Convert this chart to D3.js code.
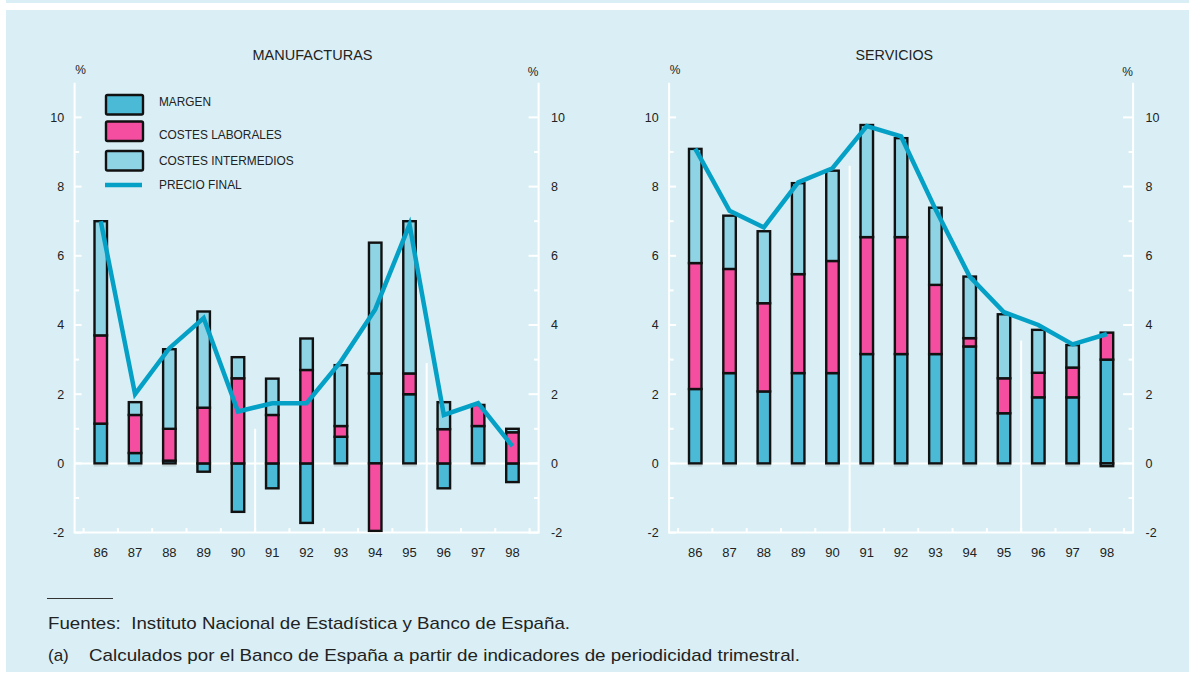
<!DOCTYPE html>
<html>
<head>
<meta charset="utf-8">
<script src="https://cdn.jsdelivr.net/npm/d3@7"></script>
<style>
  body { margin: 0; background: #fff; }
  svg { display: block; }
  text { font-family: 'Liberation Sans', Arial, sans-serif; fill: #222; }
</style>
</head>
<body>
<svg id="chart" width="1189" height="673"></svg>
<script>
// years on the x axis
const years = ['86', '87', '88', '89', '90', '91', '92', '93', '94', '95', '96', '97', '98']
const seriesNames = ['MARGEN', 'COSTES LABORALES', 'COSTES INTERMEDIOS', 'PRECIO FINAL']
const yTicks = [-2, 0, 2, 4, 6, 8, 10]

// MANUFACTURAS (contributions, %)
const manMargen      = [1.15, 0.30, 0.08, -0.24, -1.40, -0.72, -1.72, 0.77, 2.60, 2.00, -0.72, 1.08, -0.54]
const manLaborales   = [2.55, 1.10, 0.92, 1.61, 2.46, 1.40, 2.70, 0.31, -1.95, 0.60, 0.99, 0.61, 0.90]
const manIntermedios = [3.30, 0.37, 2.30, 2.78, 0.61, 1.05, 0.91, 1.76, 3.78, 4.40, 0.78, 0.00, 0.10]
const manPrecio      = [7.00, 2.00, 3.33, 4.20, 1.50, 1.74, 1.74, 2.95, 4.45, 6.90, 1.40, 1.74, 0.50]
const manDividers    = [1.0, 2.9]

// SERVICIOS
const serMargen      = [2.15, 2.61, 2.08, 2.61, 2.61, 3.16, 3.16, 3.16, 3.38, 1.45, 1.91, 1.91, 3.00]
const serLaborales   = [3.64, 3.01, 2.55, 2.86, 3.24, 3.38, 3.38, 2.00, 0.24, 1.01, 0.71, 0.86, 0.78]
const serIntermedios = [3.30, 1.54, 2.08, 2.63, 2.61, 3.24, 2.86, 2.23, 1.78, 1.85, 1.24, 0.65, -0.08]
const serPrecio      = [9.10, 7.30, 6.82, 8.12, 8.53, 9.75, 9.45, 7.35, 5.40, 4.37, 4.00, 3.44, 3.74]
const serDividers    = [8.6, 3.55]

const bg = '#d9eff5'
const colors = { margen: '#4bbad6', laborales: '#f54ea0', intermedios: '#8fd4e4', precio: '#05a0c6' }

const svg = d3.select('#chart')

// background pieces
svg.append('rect').attr('x', 6).attr('y', 0).attr('width', 1183).attr('height', 3).attr('fill', bg)
svg.append('rect').attr('x', 6).attr('y', 10).attr('width', 1183).attr('height', 662).attr('fill', bg)

const y = d3.scaleLinear().domain([-2, 11]).range([532.6, 82.8])

function fit(sel, w) {
  sel.attr('textLength', w).attr('lengthAdjust', 'spacingAndGlyphs')
}

function drawPanel(p) {
  let x0 = p.x0, x1 = p.x0 + 464
  let g = svg.append('g')
  let x = d3.scaleBand().domain(years).range([x0 + 9, x0 + 455]).padding(0)
  let bw = 12.5

  // title and % marks
  g.append('text').attr('x', p.titleX).attr('y', 55).attr('dy', '0.35em')
    .attr('text-anchor', 'middle').style('font-size', '15px')
    .text(p.title).call(fit, p.titleW)
  g.append('text').attr('x', x0 + 6).attr('y', 70).attr('dy', '0.35em')
    .attr('text-anchor', 'middle').style('font-size', '12px').text('%')
  g.append('text').attr('x', x1 - 5.5).attr('y', 72).attr('dy', '0.35em')
    .attr('text-anchor', 'middle').style('font-size', '12px').text('%')

  // axes frame (white)
  g.append('line').attr('x1', x0).attr('x2', x0).attr('y1', y(11)).attr('y2', y(-2))
    .attr('stroke', '#fff').attr('stroke-width', 2)
  g.append('line').attr('x1', x1).attr('x2', x1).attr('y1', y(11)).attr('y2', y(-2))
    .attr('stroke', '#fff').attr('stroke-width', 2)
  g.append('line').attr('x1', x0 - 1).attr('x2', x1 + 1).attr('y1', y(-2)).attr('y2', y(-2))
    .attr('stroke', '#fff').attr('stroke-width', 2)
  g.append('line').attr('x1', x0).attr('x2', x1).attr('y1', y(0)).attr('y2', y(0))
    .attr('stroke', '#fff').attr('stroke-width', 2)

  let minor = d3.range(-1, 11, 2)
  g.selectAll('.tl').data(yTicks.concat(minor)).join('line')
    .attr('x1', x0).attr('x2', d => x0 + (d % 2 == 0 ? 7 : 4.5))
    .attr('y1', d => y(d)).attr('y2', d => y(d))
    .attr('stroke', '#fff').attr('stroke-width', 2)
  g.selectAll('.tr').data(yTicks.concat(minor)).join('line')
    .attr('x1', x1).attr('x2', d => x1 - (d % 2 == 0 ? 10 : 4.5))
    .attr('y1', d => y(d)).attr('y2', d => y(d))
    .attr('stroke', '#fff').attr('stroke-width', 2)

  g.selectAll('.ll').data(yTicks).join('text')
    .attr('x', x0 - 10.5).attr('y', d => y(d)).attr('dy', '0.35em')
    .attr('text-anchor', 'end').style('font-size', '12.5px').text(d => d)
  g.selectAll('.lr').data(yTicks).join('text')
    .attr('x', x1 + 12.5).attr('y', d => y(d)).attr('dy', '0.35em')
    .attr('text-anchor', 'start').style('font-size', '12.5px').text(d => d)

  // bottom ticks on band edges
  let edges = years.map(d => x(d)).concat([x(years[12]) + x.bandwidth()])
  g.selectAll('.bt').data(edges).join('line')
    .attr('x1', d => d).attr('x2', d => d).attr('y1', y(-2)).attr('y2', y(-2) - 4.5)
    .attr('stroke', '#fff').attr('stroke-width', 2)

  // dividers between 90|91 and 95|96
  g.selectAll('.dv').data(p.dividers).join('line')
    .attr('x1', (d, i) => x(i == 0 ? '91' : '96')).attr('x2', (d, i) => x(i == 0 ? '91' : '96'))
    .attr('y1', y(-2)).attr('y2', d => y(d))
    .attr('stroke', '#fff').attr('stroke-width', 2)

  g.selectAll('.yl').data(years).join('text')
    .attr('x', d => x(d) + x.bandwidth() / 2).attr('y', 552).attr('dy', '0.35em')
    .attr('text-anchor', 'middle').style('font-size', '13px').text(d => d)

  // grey marks at zero under bars
  g.selectAll('.zm').data(years).join('line')
    .attr('x1', d => x(d) + x.bandwidth() / 2 - 7).attr('x2', d => x(d) + x.bandwidth() / 2 + 7)
    .attr('y1', y(0) + 2.5).attr('y2', y(0) + 2.5)
    .attr('stroke', '#b5c4c8').attr('stroke-width', 1)

  // stacked bars
  let rows = years.map((yr, i) => ({
    year: yr, margen: p.margen[i], laborales: p.laborales[i], intermedios: p.intermedios[i]
  }))
  let stack = d3.stack().keys(['margen', 'laborales', 'intermedios'])
    .offset(d3.stackOffsetDiverging)(rows)

  g.selectAll('g.layer').data(stack).join('g').attr('class', 'layer')
    .attr('fill', d => colors[d.key])
    .selectAll('rect')
    .data(d => d.filter(s => s[0] != s[1]))
    .join('rect')
    .attr('x', d => x(d.data.year) + x.bandwidth() / 2 - bw / 2)
    .attr('width', bw)
    .attr('y', d => y(Math.max(d[0], d[1])))
    .attr('height', d => Math.abs(y(d[0]) - y(d[1])))
    .attr('stroke', '#111').attr('stroke-width', 2.4)

  // price line
  let line = d3.line().x((d, i) => x(years[i]) + x.bandwidth() / 2).y(d => y(d))
  g.append('path').datum(p.precio).attr('d', line)
    .attr('fill', 'none').attr('stroke', colors.precio).attr('stroke-width', 4.5)
    .attr('stroke-linejoin', 'miter')

  if (p.legend) {
    let lg = g.append('g')
    let boxY = [95, 121.5, 151]
    let keys = ['margen', 'laborales', 'intermedios']
    lg.selectAll('rect').data(keys).join('rect')
      .attr('x', 106).attr('y', (d, i) => boxY[i]).attr('width', 37).attr('height', 19.5)
      .attr('rx', 1.5).attr('fill', d => colors[d]).attr('stroke', '#111').attr('stroke-width', 2.4)
    lg.append('line').attr('x1', 105).attr('x2', 142).attr('y1', 185).attr('y2', 185)
      .attr('stroke', colors.precio).attr('stroke-width', 4.5)
    let textY = [101, 134, 160, 184.3]
    let textW = [52, 122.8, 134.7, 82.7]
    lg.selectAll('text').data(seriesNames).join('text')
      .attr('x', 159).attr('y', (d, i) => textY[i]).attr('dy', '0.35em')
      .style('font-size', '13.5px').text(d => d)
      .each(function(d, i) { d3.select(this).call(fit, textW[i]) })
  }
}

drawPanel({
  title: 'MANUFACTURAS', titleX: 312.5, titleW: 120, x0: 74.6,
  margen: manMargen, laborales: manLaborales, intermedios: manIntermedios,
  precio: manPrecio, dividers: manDividers, legend: true
})
drawPanel({
  title: 'SERVICIOS', titleX: 894.3, titleW: 77.5, x0: 669.1,
  margen: serMargen, laborales: serLaborales, intermedios: serIntermedios,
  precio: serPrecio, dividers: serDividers, legend: false
})

// footnotes
svg.append('line').attr('x1', 47).attr('x2', 113).attr('y1', 598.5).attr('y2', 598.5)
  .attr('stroke', '#333').attr('stroke-width', 1)
svg.append('text').attr('x', 48).attr('y', 623).attr('dy', '0.35em')
  .style('font-size', '17px').style('white-space', 'pre')
  .text('Fuentes:  Instituto Nacional de Estadística y Banco de España.')
  .call(fit, 522)
svg.append('text').attr('x', 48).attr('y', 655).attr('dy', '0.35em')
  .style('font-size', '17px').text('(a)')
svg.append('text').attr('x', 89).attr('y', 655).attr('dy', '0.35em')
  .style('font-size', '17px').text('Calculados por el Banco de España a partir de indicadores de periodicidad trimestral.')
  .call(fit, 711)
</script>
</body>
</html>
